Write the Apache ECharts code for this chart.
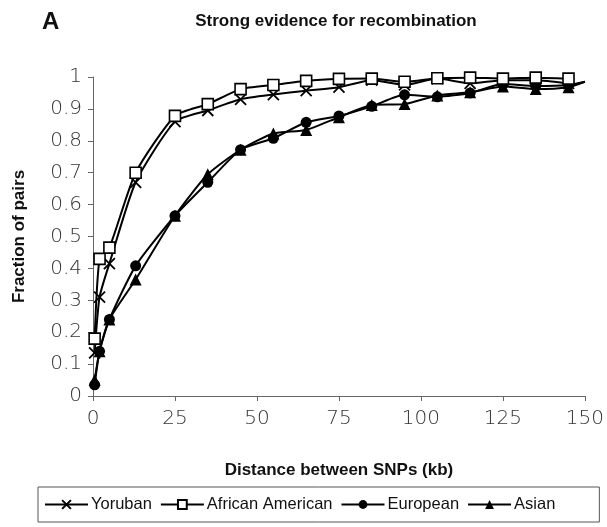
<!DOCTYPE html>
<html>
<head>
<meta charset="utf-8">
<script src="https://cdn.jsdelivr.net/npm/echarts@6/dist/echarts.min.js"></script>
<style>
html,body{margin:0;padding:0;background:#fff;}
#chart{width:607px;height:527px;}
</style>
</head>
<body>
<div id="chart"></div>
<script>
const distances = [0.5, 2, 5, 13, 25, 35, 45, 55, 65, 75, 85, 95, 105, 115, 125, 135, 145];
const yoruban = [0.135, 0.31, 0.415, 0.67, 0.86, 0.895, 0.93, 0.945, 0.957, 0.968, 0.99, 0.975, 0.995, 0.98, 0.99, 0.99, 0.98];
const africanAmerican = [0.18, 0.43, 0.465, 0.70, 0.878, 0.915, 0.962, 0.975, 0.988, 0.994, 0.995, 0.985, 0.996, 0.998, 0.995, 0.998, 0.995];
const european = [0.035, 0.14, 0.24, 0.408, 0.565, 0.67, 0.772, 0.808, 0.858, 0.878, 0.908, 0.944, 0.938, 0.95, 0.978, 0.972, 0.975];
const asian = [0.05, 0.14, 0.24, 0.365, 0.565, 0.695, 0.772, 0.823, 0.834, 0.874, 0.912, 0.915, 0.942, 0.952, 0.97, 0.962, 0.968];
const tailDistance = 150;
const tailValue = 0.985;
const xTicks = [0, 25, 50, 75, 100, 125, 150];
const yTicks = [0, 0.1, 0.2, 0.3, 0.4, 0.5, 0.6, 0.7, 0.8, 0.9, 1];

const crossPath = 'path://M0,0L10,10M10,0L0,10';

function pairs(vals, tail) {
  const d = distances.map((x, i) => [x, vals[i]]);
  if (tail) d.push({value: [tailDistance, tailValue], symbol: 'none'});
  return d;
}

const lineStyle = {color: '#000', width: 2};
const series = [
  {name: 'Yoruban', type: 'line', data: pairs(yoruban, false), symbol: crossPath, symbolSize: 11,
   itemStyle: {color: 'transparent', borderColor: '#000', borderWidth: 1.8}, lineStyle, smooth: 0.2, z: 3},
  {name: 'African American', type: 'line', data: pairs(africanAmerican, false), symbol: 'rect', symbolSize: 11,
   itemStyle: {color: '#fff', borderColor: '#000', borderWidth: 1.6}, lineStyle, smooth: 0.2, z: 4},
  {name: 'European', type: 'line', data: pairs(european, true), symbol: 'circle', symbolSize: 11,
   itemStyle: {color: '#000', borderColor: '#000', borderWidth: 0}, lineStyle, smooth: 0.2, z: 2},
  {name: 'Asian', type: 'line', data: pairs(asian, true), symbol: 'triangle', symbolSize: 12,
   itemStyle: {color: '#000', borderColor: '#000', borderWidth: 0}, lineStyle, smooth: 0.2, z: 2}
];

const tickFont = {fontFamily: 'DejaVu Sans', fontWeight: 200, fontSize: 20, color: '#333'};
const boldFont = {fontFamily: 'Liberation Sans', fontWeight: 'bold', color: '#111'};
const chart = echarts.init(document.getElementById('chart'), null, {renderer: 'canvas'});
chart.setOption({
  animation: false,
  backgroundColor: '#fff',
  title: [
    {text: 'Strong evidence for recombination', left: 331, top: 8, textAlign: 'center',
     textStyle: Object.assign({fontSize: 17}, boldFont)},
    {text: 'A', left: 37, top: 5,
     textStyle: Object.assign({fontSize: 24}, boldFont)}
  ],
  grid: {left: 93, right: 14, top: 77, bottom: 131, containLabel: false},
  xAxis: {
    type: 'value', min: 0, max: 150, interval: 25,
    name: 'Distance between SNPs (kb)', nameLocation: 'middle', nameGap: 66,
    nameTextStyle: Object.assign({fontSize: 17}, boldFont),
    axisLine: {lineStyle: {color: '#666', width: 1}},
    axisTick: {show: true, length: 5, lineStyle: {color: '#666'}},
    axisLabel: Object.assign({margin: 13, customValues: xTicks}, tickFont),
    splitLine: {show: false}
  },
  yAxis: {
    type: 'value', min: 0, max: 1, interval: 0.1,
    name: 'Fraction of pairs', nameLocation: 'middle', nameGap: 65,
    nameTextStyle: Object.assign({fontSize: 17}, boldFont),
    axisLine: {show: true, lineStyle: {color: '#666', width: 1}},
    axisTick: {show: true, length: 5, lineStyle: {color: '#666'}},
    axisLabel: Object.assign({margin: 11, formatter: v => (Math.round(v * 10) / 10).toString()}, tickFont),
    splitLine: {show: false}
  },
  legend: {
    left: 38, top: 487, padding: [9, 44, 9, 6], itemGap: 8,
    itemWidth: 43, itemHeight: 11,
    borderColor: '#555', borderWidth: 1, borderRadius: 0,
    textStyle: {fontFamily: 'Liberation Sans', fontSize: 16.5, color: '#111', padding: [0, 0, 0, -2]},
    data: ['Yoruban', 'African American', 'European', 'Asian']
  },
  series
});
</script>
</body>
</html>
